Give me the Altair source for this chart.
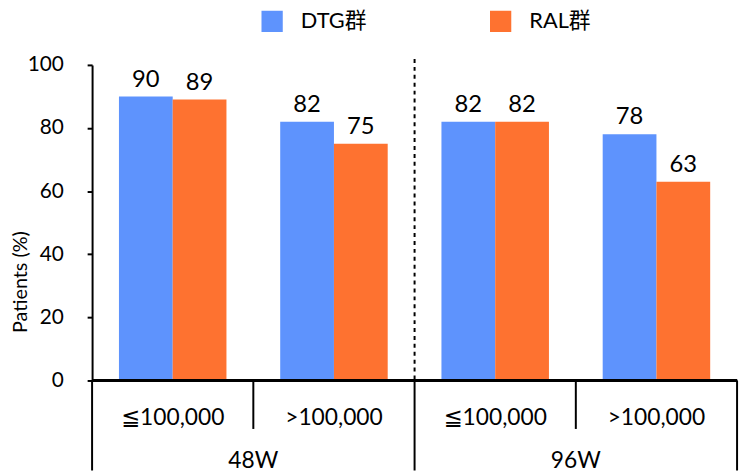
import altair as alt
import pandas as pd

# ---- data ----
periods = ["48W", "48W", "96W", "96W"]
levels = ["≦100,000", ">100,000", "≦100,000", ">100,000"]
series = ["DTG群", "RAL群"]
dtg = [90, 82, 82, 78]
ral = [89, 75, 82, 63]
colors = ["#5E93FD", "#FE7230"]
y_ticks = [0, 20, 40, 60, 80, 100]

FONT = "Lato, 'DejaVu Sans', 'Noto Sans CJK JP', sans-serif"
W, H = 652, 319
PAD_BOTTOM = 91

groups = [f"{p} {l}" for p, l in zip(periods, levels)]
rows = []
for g, a, b in zip(groups, dtg, ral):
    rows.append({"group": g, "series": series[0], "value": a})
    rows.append({"group": g, "series": series[1], "value": b})
df = pd.DataFrame(rows)

lv = pd.DataFrame({"pos": [i + 0.5 for i in range(len(levels))],
                   "label": levels, "period": periods})
per = lv.groupby("period", sort=False)["pos"].mean().reset_index()
n = len(groups)
edges = {0, n} | {i for i in range(1, n) if periods[i] != periods[i - 1]}
bounds = pd.DataFrame({"pos": list(range(n + 1))})
bounds["full"] = bounds["pos"].isin(edges)

x_nom = alt.X("group:N", sort=groups,
              scale=alt.Scale(paddingInner=0, paddingOuter=0), axis=None)
x_off = alt.XOffset("series:N", sort=series,
                    scale=alt.Scale(paddingInner=0, paddingOuter=0.5))
y_enc = alt.Y(
    "value:Q",
    scale=alt.Scale(domain=[0, 100], nice=False),
    axis=alt.Axis(
        values=y_ticks, grid=False,
        domainColor="black", domainWidth=2,
        tickColor="black", tickWidth=2, tickSize=5,
        labelFont=FONT, labelFontSize=21, labelColor="black", labelPadding=24,
        title="Patients (%)", titleFont=FONT, titleFontSize=20,
        titleFontWeight="normal", titleColor="black", titleAngle=270,
        titleX=-72, titleY=219, titleAlign="center", titleBaseline="middle",
    ),
)
color_enc = alt.Color(
    "series:N", sort=series,
    scale=alt.Scale(domain=series, range=colors),
    legend=alt.Legend(
        title=None, orient="none", legendX=171, legendY=-55,
        direction="horizontal", symbolType="square", symbolSize=462,
        symbolStrokeWidth=0, symbolOpacity=1,
        labelFont=FONT, labelFontSize=22, labelColor="black",
        labelOffset=18, columnPadding=124, padding=0,
    ),
)

bars = alt.Chart(df).mark_bar().encode(x=x_nom, xOffset=x_off, y=y_enc, color=color_enc)
labels = alt.Chart(df).mark_text(
    dy=-10, baseline="alphabetic", fontSize=24, font=FONT, color="black"
).encode(x=x_nom, xOffset=x_off, y=y_enc, text=alt.Text("value:Q"))

zero = alt.Chart(df).mark_rule(color="black", strokeWidth=2).encode(y=alt.value(H))

xq = alt.X("pos:Q", scale=alt.Scale(domain=[0, n], nice=False, zero=False), axis=None)
full = alt.Chart(bounds).transform_filter("datum.full").mark_rule(
    color="black", strokeWidth=2
).encode(x=xq, y=alt.value(H), y2=alt.value(H + PAD_BOTTOM))
short = alt.Chart(bounds).transform_filter("!datum.full").mark_rule(
    color="black", strokeWidth=2
).encode(x=xq, y=alt.value(H), y2=alt.value(H + 49))
dashed = alt.Chart(bounds).transform_filter(
    f"datum.full && datum.pos > 0 && datum.pos < {n}"
).mark_rule(color="black", strokeWidth=2, strokeDash=[4, 4]).encode(
    x=xq, y=alt.value(-6), y2=alt.value(H)
)
lv_text = alt.Chart(lv).mark_text(
    fontSize=23, font=FONT, color="black", baseline="middle"
).encode(x=xq, y=alt.value(H + 38), text="label:N")
per_text = alt.Chart(per).mark_text(
    fontSize=23, font=FONT, color="black", baseline="middle"
).encode(x=xq, y=alt.value(H + 81), text="period:N")

chart = alt.layer(
    bars, labels, zero, dashed, full, short, lv_text, per_text
).resolve_scale(x="independent").properties(
    width=W, height=H,
    padding={"left": 85, "right": 6, "top": 55, "bottom": PAD_BOTTOM},
    autosize=alt.AutoSizeParams(type="none"),
).configure_view(stroke=None)

chart.save("out.html", embed_options={"renderer": "svg", "actions": False})
